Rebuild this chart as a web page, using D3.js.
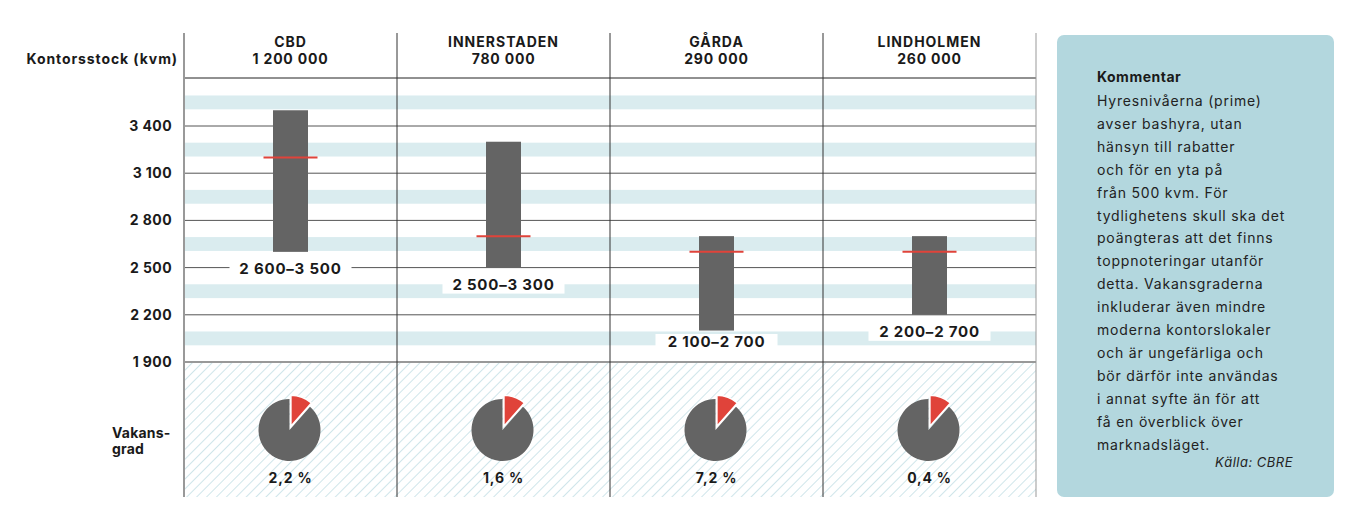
<!DOCTYPE html>
<html>
<head>
<meta charset="utf-8">
<script src="https://cdn.jsdelivr.net/npm/d3@7"></script>
<style>
  body { margin: 0; background: #fff; }
  svg { display: block; font-family: Inter, "Open Sans", sans-serif; }
</style>
</head>
<body>
<div id="chart"></div>
<script>
// data
const districts = ['CBD', 'INNERSTADEN', 'GÅRDA', 'LINDHOLMEN'];
const stock = [1200000, 780000, 290000, 260000];
const rentLow = [2600, 2500, 2100, 2200];
const rentHigh = [3500, 3300, 2700, 2700];
const rentMid = [3200, 2700, 2600, 2600];
const vacancy = [2.2, 1.6, 7.2, 0.4];
const pieShare = [0.115, 0.115, 0.115, 0.115]; // the pies are drawn all alike in the picture
const yTicks = [1900, 2200, 2500, 2800, 3100, 3400];
const stripeValues = [2050, 2350, 2650, 2950, 3250, 3550];
const commentLines = [
    'Hyresnivåerna (prime)', 'avser bashyra, utan', 'hänsyn till rabatter',
    'och för en yta på', 'från 500 kvm. För', 'tydlighetens skull ska det',
    'poängteras att det finns', 'toppnoteringar utanför', 'detta. Vakansgraderna',
    'inkluderar även mindre', 'moderna kontorslokaler', 'och är ungefärliga och',
    'bör därför inte användas', 'i annat syfte än för att', 'få en överblick över',
    'marknadsläget.'
];

const W = 1353, H = 519;
const left = 184, right = 1036;
const headTop = 33, headLine = 78, bottom = 497;

const loc = d3.formatLocale({decimal: ',', thousands: ' ', grouping: [3], currency: ['', '']});
const fmt = loc.format(',d');
const fmtPct = loc.format('.1f');

const svg = d3.select('#chart').append('svg')
    .attr('width', W)
    .attr('height', H);

const x = d3.scaleBand().domain(districts).range([left, right]);
const y = d3.scaleLinear().domain([1900, 3400]).range([362, 126]);
const halfStripe = 44;

// hatch pattern for the vacancy row
const defs = svg.append('defs');
defs.append('pattern')
    .attr('id', 'hatch')
    .attr('patternUnits', 'userSpaceOnUse')
    .attr('width', 7).attr('height', 7)
    .attr('patternTransform', 'rotate(45)')
  .append('line')
    .attr('x1', 0).attr('y1', 0).attr('x2', 0).attr('y2', 7)
    .attr('stroke', '#cfe5ea')
    .attr('stroke-width', 2);

svg.append('rect')
    .attr('x', left).attr('y', y(1900))
    .attr('width', right - left).attr('height', bottom - y(1900))
    .attr('fill', 'url(#hatch)');

// light stripes
svg.selectAll('rect.stripe').data(stripeValues).enter().append('rect')
    .classed('stripe', true)
    .attr('x', left)
    .attr('y', d => y(d + halfStripe))
    .attr('width', right - left)
    .attr('height', d => y(d - halfStripe) - y(d + halfStripe))
    .attr('fill', '#daecef');

// grid lines
svg.selectAll('line.grid').data(yTicks).enter().append('line')
    .classed('grid', true)
    .attr('x1', left).attr('x2', right)
    .attr('y1', d => y(d)).attr('y2', d => y(d))
    .attr('stroke', d => d === 1900 ? '#999' : '#555')
    .attr('stroke-width', d => d === 1900 ? 2 : 1);

// y tick labels
svg.selectAll('text.tick').data(yTicks).enter().append('text')
    .classed('tick', true)
    .attr('x', 172)
    .attr('y', d => y(d) + 5)
    .attr('text-anchor', 'end')
    .attr('font-size', 14)
    .attr('font-weight', 700)
    .attr('letter-spacing', 0.4)
    .attr('fill', '#1a1a1a')
    .text(d => fmt(d));

// header line
svg.append('line')
    .attr('x1', left).attr('x2', right)
    .attr('y1', headLine).attr('y2', headLine)
    .attr('stroke', '#222');

// column separators
const edges = districts.map(d => x(d)).concat([right]);
svg.selectAll('line.col').data(edges).enter().append('line')
    .classed('col', true)
    .attr('x1', d => d).attr('x2', d => d)
    .attr('y1', headTop).attr('y2', bottom)
    .attr('stroke', (d, i) => (i === 0 || i === edges.length - 1) ? '#999' : '#333')
    .attr('stroke-width', (d, i) => i === 0 ? 2 : 1);

const data = districts.map((d, i) => ({
    name: d, stock: stock[i], low: rentLow[i], high: rentHigh[i],
    mid: rentMid[i], vac: vacancy[i], share: pieShare[i]
}));

const col = svg.selectAll('g.district').data(data).enter().append('g')
    .classed('district', true)
    .attr('transform', d => `translate(${x(d.name) + x.bandwidth() / 2},0)`);

// headers
col.append('text')
    .attr('y', 47)
    .attr('text-anchor', 'middle')
    .attr('font-size', 14).attr('font-weight', 700).attr('fill', '#1a1a1a')
    .attr('letter-spacing', 1)
    .text(d => d.name);
col.append('text')
    .attr('y', 64)
    .attr('text-anchor', 'middle')
    .attr('font-size', 14).attr('font-weight', 700).attr('fill', '#1a1a1a')
    .attr('letter-spacing', 0.8)
    .text(d => fmt(d.stock));

svg.append('text')
    .attr('x', 178).attr('y', 64)
    .attr('text-anchor', 'end')
    .attr('font-size', 14).attr('font-weight', 700).attr('fill', '#1a1a1a')
    .attr('letter-spacing', 0.9)
    .text('Kontorsstock (kvm)');

// range bars
const barW = 35;
col.append('rect')
    .attr('x', -barW / 2)
    .attr('y', d => y(d.high))
    .attr('width', barW)
    .attr('height', d => y(d.low) - y(d.high))
    .attr('fill', '#646464');

col.append('line')
    .attr('x1', -27).attr('x2', 27)
    .attr('y1', d => y(d.mid)).attr('y2', d => y(d.mid))
    .attr('stroke', '#e0433a')
    .attr('stroke-width', 2);

// range labels
const labY = d => Math.min(y(d.low) + 17, 342);
col.append('rect')
    .attr('x', -61).attr('width', 122)
    .attr('y', d => labY(d) - 8).attr('height', 17)
    .attr('fill', '#fff');
col.append('text')
    .attr('y', d => labY(d) + 5)
    .attr('text-anchor', 'middle')
    .attr('font-size', 15).attr('font-weight', 700).attr('fill', '#1a1a1a')
    .attr('letter-spacing', 0.8)
    .text(d => fmt(d.low) + '–' + fmt(d.high));

// vacancy pies
const R = 31;
const pie = d3.pie().sort(null);
const arc = d3.arc().innerRadius(0).outerRadius(R);
const pies = col.append('g')
    .attr('transform', 'translate(-1,430)');
pies.selectAll('path')
    .data(d => pie([d.share, 1 - d.share]))
    .enter().append('path')
    .attr('d', arc)
    .attr('transform', (s, i) => {
        if (i !== 0) return null;
        const a = (s.startAngle + s.endAngle) / 2;
        return `translate(${Math.sin(a) * 4},${-Math.cos(a) * 4})`;
    })
    .attr('fill', (s, i) => i === 0 ? '#e0433a' : '#646464')
    .attr('stroke', '#fff')
    .attr('stroke-width', (s, i) => i === 0 ? 1.5 : 0);

col.append('text')
    .attr('y', 483)
    .attr('text-anchor', 'middle')
    .attr('font-size', 14).attr('font-weight', 700).attr('fill', '#1a1a1a')
    .attr('letter-spacing', 0.8)
    .text(d => fmtPct(d.vac) + ' %');

svg.append('text')
    .attr('x', 112).attr('y', 438)
    .attr('font-size', 14).attr('font-weight', 700).attr('fill', '#1a1a1a')
    .attr('letter-spacing', 0.2)
    .selectAll('tspan').data(['Vakans-', 'grad']).enter().append('tspan')
    .attr('x', 112)
    .attr('dy', (d, i) => i === 0 ? 0 : 16)
    .text(d => d);

// comment box
svg.append('rect')
    .attr('x', 1057).attr('y', 35)
    .attr('width', 277).attr('height', 462)
    .attr('rx', 7)
    .attr('fill', '#b3d7de');

svg.append('text')
    .attr('x', 1097).attr('y', 82)
    .attr('font-size', 14).attr('font-weight', 700).attr('fill', '#1a1a1a')
    .attr('letter-spacing', 0.5)
    .text('Kommentar');

svg.selectAll('text.comment').data(commentLines).enter().append('text')
    .classed('comment', true)
    .attr('x', 1097)
    .attr('y', (d, i) => 106 + i * 22.9)
    .attr('font-size', 14).attr('fill', '#222')
    .attr('letter-spacing', 0.8)
    .text(d => d);

svg.append('text')
    .attr('x', 1293).attr('y', 467)
    .attr('text-anchor', 'end')
    .attr('font-size', 13).attr('font-style', 'italic').attr('fill', '#222')
    .attr('letter-spacing', 0.5)
    .text('Källa: CBRE');
</script>
</body>
</html>
